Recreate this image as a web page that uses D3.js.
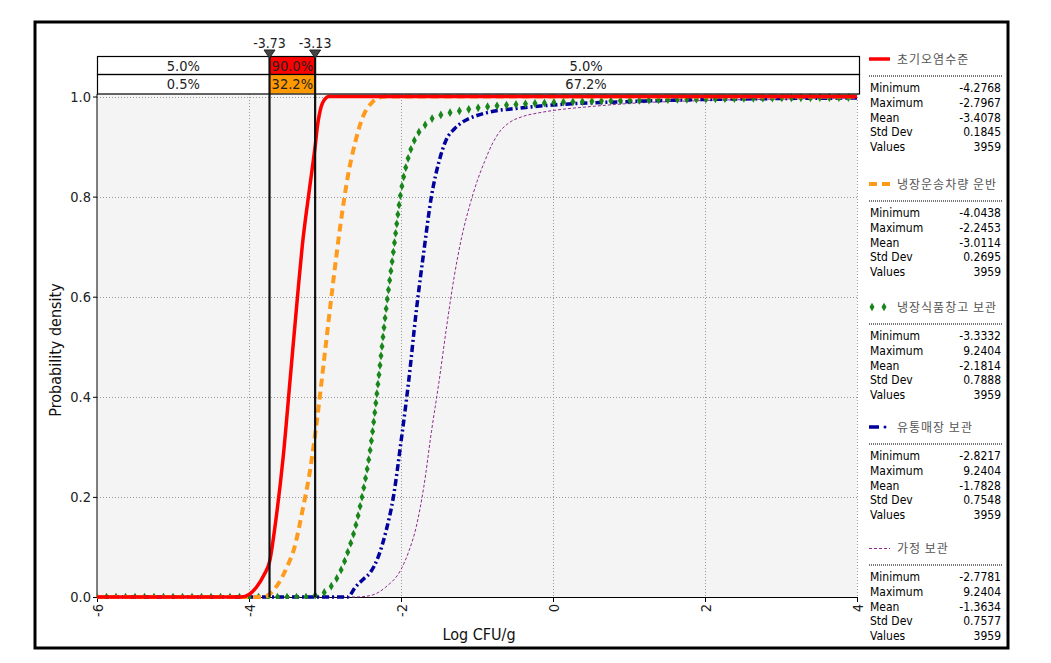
<!DOCTYPE html>
<html><head><meta charset="utf-8">
<script src="https://cdn.jsdelivr.net/npm/d3@7"></script>
<style>body{margin:0;background:#fff}svg{display:block}text{font-family:"DejaVu Sans Condensed","Liberation Sans",Arial,sans-serif}</style>
</head><body><svg id="c" width="1051" height="663"></svg>
<script>
// ---- data ----
const xTicks = [-6, -4, -2, 0, 2, 4];
const yTicks = [0, 0.2, 0.4, 0.6, 0.8, 1.0];
const seriesNames = ["초기오염수준", "냉장운송차량 운반", "냉장식품창고 보관", "유통매장 보관", "가정 보관"];
const markers = [-3.73, -3.13];
const markerLabels = ["-3.73", "-3.13"];
const bandRow1 = ["5.0%", "90.0%", "5.0%"];
const bandRow2 = ["0.5%", "32.2%", "67.2%"];
const statLabels = ["Minimum", "Maximum", "Mean", "Std Dev", "Values"];
const stats1 = ["-4.2768", "-2.7967", "-3.4078", "0.1845", "3959"];
const stats2 = ["-4.0438", "-2.2453", "-3.0114", "0.2695", "3959"];
const stats3 = ["-3.3332", "9.2404", "-2.1814", "0.7888", "3959"];
const stats4 = ["-2.8217", "9.2404", "-1.7828", "0.7548", "3959"];
const stats5 = ["-2.7781", "9.2404", "-1.3634", "0.7577", "3959"];
const s1 = [[-6,0],[-4.1,0],[-4.0,0.005],[-3.9,0.02],[-3.8,0.045],[-3.73,0.07],[-3.65,0.15],[-3.55,0.28],[-3.45,0.45],[-3.35,0.62],[-3.3,0.7],[-3.2,0.82],[-3.13,0.9],[-3.1,0.94],[-3.05,0.98],[-3.0,0.995],[-2.95,1],[4,1]];
const s2 = [[-6,0],[-3.8,0],[-3.7,0.01],[-3.6,0.03],[-3.5,0.06],[-3.4,0.1],[-3.3,0.17],[-3.2,0.25],[-3.1,0.36],[-3.0,0.49],[-2.9,0.62],[-2.8,0.74],[-2.7,0.84],[-2.6,0.91],[-2.5,0.96],[-2.4,0.985],[-2.3,0.997],[-2.2,1],[4,1]];
const s3 = [[-6,0],[-3.2,0],[-3.1,0.005],[-3.0,0.01],[-2.9,0.025],[-2.8,0.05],[-2.7,0.09],[-2.6,0.14],[-2.5,0.21],[-2.4,0.3],[-2.3,0.43],[-2.2,0.57],[-2.1,0.69],[-2.0,0.81],[-1.9,0.88],[-1.8,0.92],[-1.7,0.94],[-1.6,0.955],[-1.4,0.966],[-1.2,0.972],[-1,0.977],[-0.5,0.984],[0,0.988],[1,0.992],[2,0.995],[3,0.997],[4,0.998]];
const s4 = [[-6,0],[-2.7,0],[-2.6,0.02],[-2.5,0.035],[-2.4,0.05],[-2.3,0.08],[-2.2,0.13],[-2.1,0.2],[-2.0,0.31],[-1.9,0.43],[-1.8,0.57],[-1.7,0.69],[-1.6,0.8],[-1.5,0.87],[-1.4,0.915],[-1.3,0.935],[-1.2,0.948],[-1.0,0.962],[-0.8,0.97],[-0.5,0.976],[0,0.983],[1,0.99],[2,0.994],[3,0.996],[4,0.997]];
const s5 = [[-6,0],[-2.6,0],[-2.4,0.003],[-2.2,0.02],[-2.0,0.055],[-1.9,0.09],[-1.8,0.14],[-1.7,0.22],[-1.6,0.33],[-1.5,0.43],[-1.4,0.54],[-1.3,0.64],[-1.2,0.72],[-1.1,0.78],[-1.0,0.83],[-0.9,0.87],[-0.8,0.905],[-0.7,0.93],[-0.6,0.945],[-0.4,0.96],[-0.2,0.967],[0,0.972],[0.5,0.98],[1,0.986],[2,0.992],[3,0.995],[4,0.997]];

// ---- layout ----
const svg = d3.select("#c");
const L = 97, R = 857, T = 96.5, B = 597;
const x = d3.scaleLinear().domain([-6, 4]).range([L, R]);
const y = d3.scaleLinear().domain([0, 1]).range([B, T]);

svg.append("rect").attr("x", 35).attr("y", 22).attr("width", 973).attr("height", 626)
  .attr("fill", "none").attr("stroke", "#000").attr("stroke-width", 3);

svg.append("rect").attr("x", L).attr("y", 94).attr("width", R - L).attr("height", B - 94).attr("fill", "#f4f4f4");

const grid = svg.append("g").attr("stroke", "#999").attr("stroke-width", 1).attr("stroke-dasharray", "1,2");
grid.selectAll(".gx").data(xTicks.slice(1)).join("line")
  .attr("x1", d => x(d) + 0.5).attr("x2", d => x(d) + 0.5).attr("y1", 94).attr("y2", B);
grid.selectAll(".gy").data(yTicks.slice(1)).join("line")
  .attr("y1", d => Math.round(y(d)) + 0.5).attr("y2", d => Math.round(y(d)) + 0.5).attr("x1", L).attr("x2", R);

const ff = "'DejaVu Sans Condensed','Liberation Sans',Arial,sans-serif";
const xAxis = svg.append("g").attr("transform", `translate(0,${B})`)
  .call(d3.axisBottom(x).tickValues(xTicks).tickSize(5).tickFormat(d => String(d)));
xAxis.select(".domain").attr("stroke", "#000");
xAxis.selectAll("text").attr("transform", "rotate(-90)").attr("text-anchor", "end")
  .attr("x", -7).attr("y", 0).attr("dy", "0.35em").attr("font-size", 14.5).attr("fill", "#222")
  .style("font-family", ff);
const yAxis = svg.append("g").attr("transform", `translate(${L},0)`)
  .call(d3.axisLeft(y).tickValues(yTicks).tickSize(4).tickFormat(d => d.toFixed(1)));
yAxis.select(".domain").attr("d", `M0,94V${B}`).attr("stroke", "#000");
yAxis.selectAll("text").attr("font-size", 14.5).attr("fill", "#222").attr("x", -6)
  .style("font-family", ff);

svg.append("text").attr("transform", "translate(61,350) rotate(-90)").attr("text-anchor", "middle")
  .attr("font-size", 16).attr("fill", "#111").text("Probability density");
svg.append("text").attr("x", 479).attr("y", 640).attr("text-anchor", "middle")
  .attr("font-size", 16).attr("fill", "#111").text("Log CFU/g");

// curves
svg.append("clipPath").attr("id", "clip").append("rect").attr("x", L).attr("y", 90).attr("width", R - L + 3).attr("height", B - 88);
const line = d3.line().x(d => x(d[0])).y(d => y(d[1])).curve(d3.curveMonotoneX);
const styles = [
  {data: s5, color: "#8e2a8e", w: 1, dash: "3,2"},
  {data: s4, color: "#00009c", w: 3.5, dash: "7,3,2,3"},
  {data: s3, color: "#18861a", w: 0, dash: null, diamonds: true},
  {data: s2, color: "#ff9b1c", w: 4, dash: "8,5"},
  {data: s1, color: "#ff0000", w: 3.5, dash: null}
];
const cg = svg.append("g").attr("clip-path", "url(#clip)");
styles.forEach(s => {
  const p = cg.append("path").attr("d", line(s.data)).attr("fill", "none").attr("stroke", s.color)
    .attr("stroke-width", s.w).attr("stroke-dasharray", s.dash).attr("stroke-linejoin", "round");
  if (s.diamonds) {
    p.attr("stroke", "none");
    const node = p.node(), len = node.getTotalLength();
    const pts = d3.range(0, len, 9.5).map(l => node.getPointAtLength(l));
    cg.selectAll(null).data(pts).join("path").attr("d", d3.symbol(d3.symbolDiamond, 22)())
      .attr("transform", d => `translate(${d.x},${d.y})`).attr("fill", s.color);
  }
});

// bands
const bx = [L, x(markers[0]), x(markers[1]), R];
const rows = [{y: 56, h: 18, labels: bandRow1, fill: "#ff0000"}, {y: 74, h: 19.5, labels: bandRow2, fill: "#ff9900"}];
rows.forEach(r => {
  svg.append("rect").attr("x", bx[1]).attr("y", r.y).attr("width", bx[2] - bx[1]).attr("height", r.h).attr("fill", r.fill);
  svg.append("rect").attr("x", L + 0.5).attr("y", r.y + 0.5).attr("width", R - L + 2).attr("height", r.h)
    .attr("fill", "none").attr("stroke", "#000").attr("stroke-width", 1.2);
  r.labels.forEach((t, i) => {
    svg.append("text").attr("x", (bx[i] + bx[i + 1]) / 2).attr("y", r.y + r.h / 2 + 5.5)
      .attr("text-anchor", "middle").attr("font-size", 14.5).attr("fill", "#222").text(t);
  });
});

markers.forEach((m, i) => {
  const mx = x(m);
  svg.append("line").attr("x1", mx).attr("x2", mx).attr("y1", 52).attr("y2", B)
    .attr("stroke", "#111").attr("stroke-width", 2.2);
  svg.append("path").attr("d", `M${mx - 5.5},50L${mx + 5.5},50L${mx},58Z`).attr("fill", "#444").attr("stroke", "#222");
  svg.append("text").attr("x", mx).attr("y", 47.5).attr("text-anchor", "middle").attr("font-size", 14).attr("fill", "#222")
    .text(markerLabels[i]);
});

// legend
const allStats = [stats1, stats2, stats3, stats4, stats5];
const swY = [59, 184, 307, 427, 548];
allStats.forEach((st, k) => {
  const g = svg.append("g").attr("transform", `translate(0,${swY[k]})`);
  const s = styles[4 - k];
  if (k === 0) g.append("line").attr("x1", 869).attr("x2", 890).attr("y1", 0).attr("y2", 0).attr("stroke", s.color).attr("stroke-width", 3.5);
  if (k === 1) g.append("line").attr("x1", 869).attr("x2", 890).attr("y1", 0).attr("y2", 0).attr("stroke", s.color).attr("stroke-width", 4).attr("stroke-dasharray", "8,5");
  if (k === 2) [872, 884].forEach(cx => g.append("path").attr("d", d3.symbol(d3.symbolDiamond, 22)()).attr("transform", `translate(${cx},0)`).attr("fill", s.color));
  if (k === 3) { g.append("line").attr("x1", 869).attr("x2", 879).attr("y1", 0).attr("y2", 0).attr("stroke", s.color).attr("stroke-width", 3.5);
                 g.append("circle").attr("cx", 885).attr("cy", 0).attr("r", 1.5).attr("fill", s.color); }
  if (k === 4) g.append("line").attr("x1", 869).attr("x2", 890).attr("y1", 0.5).attr("y2", 0.5).attr("stroke", s.color).attr("stroke-width", 1).attr("stroke-dasharray", "3,2");
  g.append("text").attr("x", 897).attr("y", 4.5).attr("font-size", 12).attr("fill", "#555").attr("letter-spacing", 1)
    .style("font-family", "'Noto Sans CJK KR',sans-serif").text(seriesNames[k]);
  g.append("line").attr("x1", 869).attr("x2", 1003).attr("y1", 17).attr("y2", 17)
    .attr("stroke", "#777").attr("stroke-width", 2).attr("stroke-dasharray", "1,1");
  statLabels.forEach((lab, i) => {
    g.append("text").attr("x", 870).attr("y", 33 + i * 14.75).attr("font-size", 12).attr("fill", "#000").text(lab);
    g.append("text").attr("x", 1001).attr("y", 33 + i * 14.75).attr("font-size", 12).attr("fill", "#000")
      .attr("text-anchor", "end").text(st[i]);
  });
});
</script></body></html>
